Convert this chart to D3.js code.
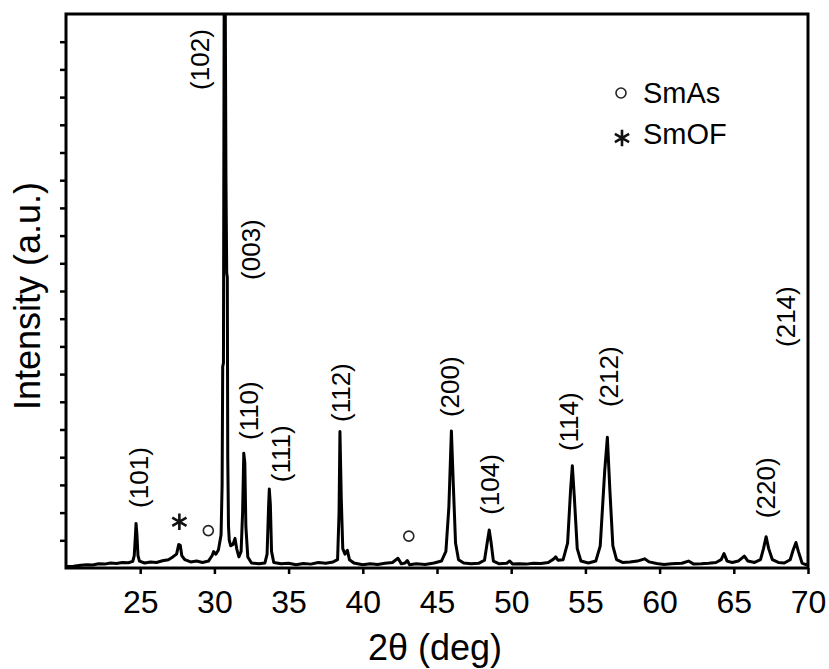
<!DOCTYPE html>
<html>
<head>
<meta charset="utf-8">
<script src="https://cdn.jsdelivr.net/npm/d3@7"></script>
<style>
    body { margin: 0; background: #fff; }
    svg { display: block; font-family: "Liberation Sans", Arial, sans-serif; }
</style>
</head>
<body>
<div id="chart"></div>
<script>
'use strict';

//#region DATA
// XRD trace, 2theta (deg) and intensity (in y tick units)
const twoTheta = [
    20.05, 20.5, 21.0, 21.4, 21.8, 22.2, 22.6, 23.0, 23.4, 23.8, 24.2, 24.5,
    24.6, 24.68, 24.72, 24.78, 24.85, 24.95, 25.3, 25.7, 26.1, 26.5, 26.9, 27.2,
    27.45, 27.6, 27.7, 27.8, 28.0, 28.4, 28.8, 29.2, 29.6, 29.85, 29.95, 30.1,
    30.27, 30.45, 30.52, 30.56, 30.61, 30.66, 30.72, 30.78, 30.83, 30.87, 30.9, 30.95,
    31.0, 31.1, 31.25, 31.39, 31.5, 31.65, 31.8, 31.9, 31.98, 32.05, 32.12, 32.25,
    32.5, 33.0, 33.4, 33.55, 33.65, 33.7, 33.77, 33.85, 34.0, 34.5, 35.0, 35.5,
    36.0, 36.5, 37.0, 37.5, 38.0, 38.3, 38.4, 38.46, 38.55, 38.65, 38.8, 38.96,
    39.1, 39.4, 40.0, 40.5, 41.0, 41.5, 42.0, 42.37, 42.6, 42.85, 43.0, 43.15,
    43.6, 44.2, 44.8, 45.3, 45.6, 45.8, 45.97, 46.1, 46.25, 46.45, 46.8, 47.3,
    47.8, 48.2, 48.38, 48.52, 48.65, 48.8, 49.2, 49.7, 49.9, 50.1, 50.5, 51.0,
    51.5, 52.0, 52.5, 52.85, 53.0, 53.15, 53.5, 53.8, 54.0, 54.12, 54.25, 54.45,
    54.7, 55.2, 55.7, 56.0, 56.3, 56.48, 56.65, 56.85, 57.1, 57.5, 58.0, 58.5,
    58.99, 59.3, 59.8, 60.3, 60.8, 61.5, 61.95, 62.3, 62.8, 63.3, 63.8, 64.15,
    64.34, 64.55, 64.9, 65.3, 65.71, 65.95, 66.4, 66.8, 67.0, 67.18, 67.35, 67.6,
    68.0, 68.4, 68.8, 69.0, 69.19, 69.35, 69.6, 69.85, 70.0
];
const intensity = [
    0.05, 0.06, 0.10, 0.12, 0.11, 0.15, 0.14, 0.18, 0.16, 0.20, 0.19, 0.24,
    0.45, 1.20, 1.61, 1.20, 0.45, 0.25, 0.18, 0.22, 0.20, 0.26, 0.30, 0.40,
    0.50, 0.85, 0.82, 0.45, 0.30, 0.22, 0.25, 0.20, 0.25, 0.45, 0.59, 0.50,
    0.65, 1.20, 3.00, 7.27, 7.40, 21.0, 22.0, 14.0, 10.64, 10.5, 4.00, 1.50,
    1.01, 0.80, 0.85, 1.07, 0.70, 0.40, 0.60, 2.00, 4.14, 3.80, 1.50, 0.40,
    0.18, 0.15, 0.18, 0.50, 2.20, 2.85, 2.30, 0.60, 0.20, 0.15, 0.17, 0.12,
    0.16, 0.14, 0.20, 0.17, 0.22, 0.30, 2.00, 4.93, 2.50, 0.70, 0.50, 0.64,
    0.30, 0.18, 0.12, 0.15, 0.13, 0.17, 0.20, 0.35, 0.15, 0.18, 0.27, 0.12,
    0.15, 0.13, 0.18, 0.25, 0.60, 2.20, 4.95, 3.00, 0.90, 0.30, 0.18, 0.15,
    0.17, 0.28, 0.90, 1.37, 0.90, 0.25, 0.15, 0.17, 0.25, 0.14, 0.15, 0.14,
    0.17, 0.16, 0.20, 0.32, 0.40, 0.28, 0.30, 0.90, 2.80, 3.69, 2.60, 0.70,
    0.25, 0.18, 0.25, 0.80, 3.50, 4.72, 2.80, 0.80, 0.30, 0.20, 0.22, 0.25,
    0.33, 0.22, 0.16, 0.13, 0.15, 0.17, 0.25, 0.14, 0.15, 0.17, 0.20, 0.30,
    0.52, 0.25, 0.20, 0.25, 0.43, 0.25, 0.20, 0.30, 0.70, 1.13, 0.70, 0.30,
    0.20, 0.18, 0.30, 0.65, 0.92, 0.60, 0.18, 0.12, 0.15
];

// peak indices: label, 2theta of the label centre, intensity at the label's lower end
const peakLabels = ['(101)', '(102)', '(003)', '(110)', '(111)', '(112)', '(200)', '(104)', '(114)', '(212)', '(220)', '(214)'];
const peakLabelX = [25.02, 29.14, 32.57, 32.43, 34.56, 38.63, 45.94, 48.67, 54.00, 56.69, 67.26, 68.62];
const peakLabelY = [2.17, 17.26, 10.40, 4.62, 3.10, 5.27, 5.45, 1.92, 4.22, 5.81, 1.80, 7.98];

// impurity markers
const smAsX = [29.59, 43.10];
const smAsY = [1.35, 1.15];
const smOFX = [27.64];
const smOFY = [1.67];

const xTicks = [25, 30, 35, 40, 45, 50, 55, 60, 65, 70];
const yTicks = d3.range(1, 20);
//#endregion

const W = 829;
const H = 669;
const M = { left: 66, right: 21, top: 14, bottom: 101 };
const FONT = '"Liberation Sans", Arial, sans-serif';

function drawChart() {
    const svg = d3.select('#chart')
        .append('svg')
        .attr('width', W)
        .attr('height', H);

    const x = d3.scaleLinear().domain([20, 70]).range([M.left, W - M.right]);
    const y = d3.scaleLinear().domain([0, 20]).range([H - M.bottom, M.top]);

    svg.append('clipPath')
        .attr('id', 'plot-clip')
        .append('rect')
        .attr('x', M.left)
        .attr('y', M.top)
        .attr('width', W - M.left - M.right)
        .attr('height', H - M.top - M.bottom);

    //axes, ticks outward, no domain line (frame drawn separately)
    const xAxis = svg.append('g')
        .attr('transform', `translate(0,${H - M.bottom})`)
        .call(d3.axisBottom(x).tickValues(xTicks).tickSize(6).tickPadding(16).tickSizeOuter(0));
    xAxis.select('.domain').remove();
    xAxis.selectAll('line').attr('stroke', '#000').attr('stroke-width', 2.5);
    xAxis.selectAll('text')
        .attr('fill', '#000')
        .style('font-family', FONT)
        .style('font-size', '32px');

    const yAxis = svg.append('g')
        .attr('transform', `translate(${M.left},0)`)
        .call(d3.axisLeft(y).tickValues(yTicks).tickSize(6).tickFormat(''));
    yAxis.select('.domain').remove();
    yAxis.selectAll('line').attr('stroke', '#000').attr('stroke-width', 2.5);

    //the trace
    const points = twoTheta.map((t, i) => [t, intensity[i]]);
    const line = d3.line()
        .x(d => x(d[0]))
        .y(d => y(d[1]));

    svg.append('path')
        .datum(points)
        .attr('clip-path', 'url(#plot-clip)')
        .attr('fill', 'none')
        .attr('stroke', '#000')
        .attr('stroke-width', 3)
        .attr('stroke-linejoin', 'round')
        .attr('d', line);

    //frame
    svg.append('rect')
        .attr('x', M.left)
        .attr('y', M.top)
        .attr('width', W - M.left - M.right)
        .attr('height', H - M.top - M.bottom)
        .attr('fill', 'none')
        .attr('stroke', '#000')
        .attr('stroke-width', 3);

    //peak labels, rotated, reading upward
    svg.selectAll('.peak-label')
        .data(peakLabels)
        .enter()
        .append('text')
        .attr('class', 'peak-label')
        .attr('transform', (d, i) => `translate(${x(peakLabelX[i])},${y(peakLabelY[i])}) rotate(-90)`)
        .attr('dy', '0.3em')
        .attr('text-anchor', 'start')
        .style('font-size', '26px')
        .attr('fill', '#000')
        .text(d => d);

    //impurity markers
    const asterisk = d3.symbol().type(d3.symbolAsterisk).size(190);

    svg.selectAll('.smas')
        .data(smAsX)
        .enter()
        .append('circle')
        .attr('class', 'smas')
        .attr('cx', d => x(d))
        .attr('cy', (d, i) => y(smAsY[i]))
        .attr('r', 5)
        .attr('fill', 'none')
        .attr('stroke', '#222')
        .attr('stroke-width', 1.6);

    svg.selectAll('.smof')
        .data(smOFX)
        .enter()
        .append('path')
        .attr('class', 'smof')
        .attr('transform', (d, i) => `translate(${x(d)},${y(smOFY[i])})`)
        .attr('d', asterisk)
        .attr('fill', 'none')
        .attr('stroke', '#111')
        .attr('stroke-width', 2.6);

    //legend
    const legend = svg.append('g').attr('transform', 'translate(621,93)');
    legend.append('circle')
        .attr('r', 5)
        .attr('fill', 'none')
        .attr('stroke', '#222')
        .attr('stroke-width', 1.6);
    legend.append('text')
        .attr('x', 22)
        .attr('y', 10)
        .style('font-size', '29px')
        .text('SmAs');
    legend.append('path')
        .attr('transform', 'translate(1,45)')
        .attr('d', asterisk)
        .attr('fill', 'none')
        .attr('stroke', '#111')
        .attr('stroke-width', 2.6);
    legend.append('text')
        .attr('x', 22)
        .attr('y', 51)
        .style('font-size', '29px')
        .text('SmOF');

    //axis titles
    svg.append('text')
        .attr('x', (M.left + W - M.right) / 2 - 2)
        .attr('y', 660)
        .attr('text-anchor', 'middle')
        .style('font-size', '36px')
        .text('2θ (deg)');

    svg.append('text')
        .attr('transform', 'translate(40,296) rotate(-90)')
        .attr('text-anchor', 'middle')
        .style('font-size', '36px')
        .text('Intensity (a.u.)');
}

drawChart();
</script>
</body>
</html>
